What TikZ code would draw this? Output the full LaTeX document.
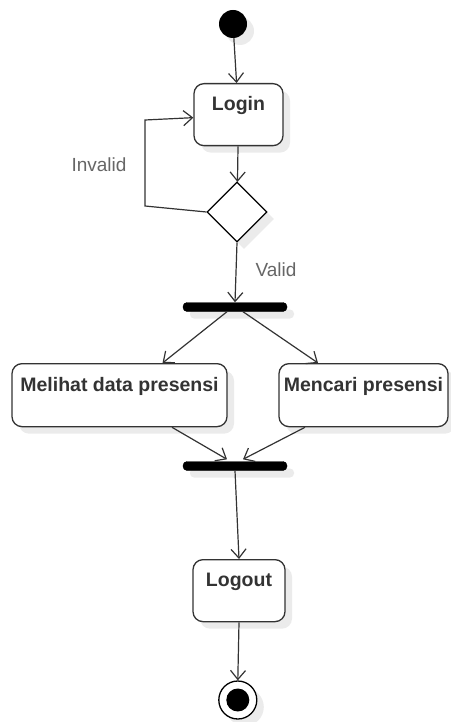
\documentclass[tikz,border=0pt]{standalone}
\usepackage{fontspec}
\setmainfont{Liberation Sans}
\usetikzlibrary{arrows.meta,shapes.geometric,shadows}
\definecolor{linec}{HTML}{333333}
\definecolor{labc}{HTML}{666666}
\begin{document}
\begin{tikzpicture}[x=1pt,y=-1pt,
  shadowed/.style={drop shadow={shadow xshift=7pt,shadow yshift=-7pt,fill=black!8,opacity=1}},
  actbox/.style={shadowed,draw=linec,line width=1.3pt,fill=white,rounded corners=10pt,
    inner sep=0pt,font=\fontsize{19.5}{23}\selectfont\bfseries,text=linec,anchor=north},
  bar/.style={shadowed,fill=black,draw=black,rounded corners=4pt,minimum width=104pt,minimum height=9pt,inner sep=0pt},
  flow/.style={draw=linec,line width=1.2pt,-{Straight Barb[length=9pt,width=15pt,line width=1.2pt]}},
  lab/.style={font=\fontsize{19}{23}\selectfont,text=labc,inner sep=0pt}]
\useasboundingbox (0,0) rectangle (450,722);
% nodes
\node[shadowed,circle,fill=black,minimum size=28pt,inner sep=0pt] (start) at (233,24) {};
\node[actbox,minimum width=89pt,text height=27pt,text depth=35pt] (login) at (238.5,83) {Login};
\node[shadowed,diamond,draw=black,line width=1.1pt,fill=white,minimum width=60pt,minimum height=60pt,inner sep=0pt] (decision) at (237,212) {};
\node[bar] (fork1) at (235,307) {};
\node[actbox,minimum width=215pt,text height=28pt,text depth=35pt] (melihat) at (119.5,363) {Melihat data presensi};
\node[actbox,minimum width=169pt,text height=28pt,text depth=35pt] (mencari) at (363.5,363) {Mencari presensi};
\node[bar] (fork2) at (235,466) {};
\node[actbox,minimum width=92pt,text height=27pt,text depth=35pt] (logout) at (239,559) {Logout};
\node[shadowed,circle,draw=black,line width=1.3pt,fill=white,minimum size=38pt,inner sep=0pt] (end) at (237.8,700) {};
\node[circle,fill=black,minimum size=23pt,inner sep=0pt] (endin) at (end.center) {};
\node[lab] (invalid) at (99,165) {Invalid};
\node[lab] (valid) at (276,270) {Valid};
\coordinate (c1) at (145,206);
\coordinate (c2) at (145,120);
% connectors
\draw[flow] (start) -- (login);
\draw[flow] (login) -- (decision);
\draw[flow] (decision.west) -- (c1) -- (c2) -- ([yshift=-3pt]login.west);
\draw[flow] (decision.south) -- (fork1.north);
\draw[flow] ([xshift=-8pt]fork1.south) -- ([xshift=43pt]melihat.north);
\draw[flow] ([xshift=8pt]fork1.south) -- ([xshift=-45.5pt]mencari.north);
\draw[flow] ([xshift=52.5pt]melihat.south) -- ([xshift=-8pt,yshift=2pt]fork2.north);
\draw[flow] ([xshift=-58.5pt]mencari.south) -- ([xshift=8pt,yshift=2pt]fork2.north);
\draw[flow] (fork2.south) -- (logout.north);
\draw[flow] (logout.south) -- (end.north);
\end{tikzpicture}
\end{document}
